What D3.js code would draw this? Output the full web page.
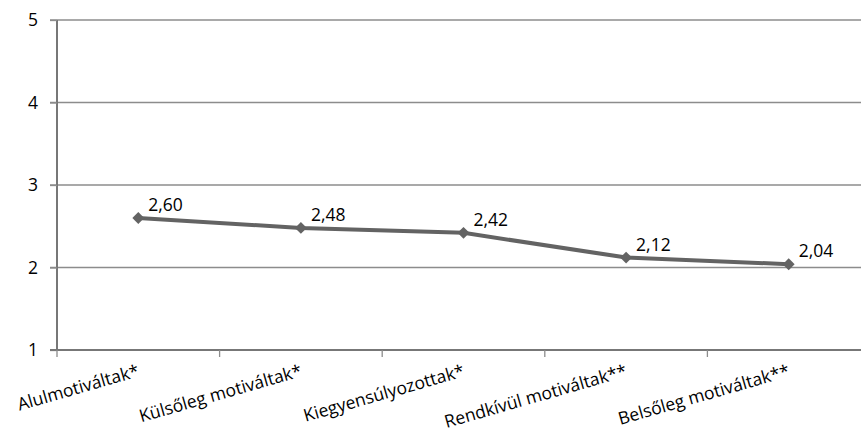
<!DOCTYPE html>
<html><head><meta charset="utf-8">
<script src="https://cdn.jsdelivr.net/npm/d3@7"></script>
<style>body{margin:0;background:#fff}svg{display:block}</style>
</head><body>
<svg id="c" width="861" height="431"></svg>
<script>
const categories = ["Alulmotiváltak*","Külsőleg motiváltak*","Kiegyensúlyozottak*","Rendkívül motiváltak**","Belsőleg motiváltak**"];
const values = [2.60, 2.48, 2.42, 2.12, 2.04];
const valueLabels = ["2,60","2,48","2,42","2,12","2,04"];
const yTicks = [1,2,3,4,5];

const svg = d3.select("#c");
const font = "'Open Sans', 'Noto Sans', sans-serif";
const x = d3.scaleBand().domain(categories).range([57, 870]);
const y = d3.scaleLinear().domain([1,5]).range([350, 20]);

// gridlines
svg.append("g").selectAll("line").data(yTicks.filter(d=>d>1)).join("line")
  .attr("x1", 50).attr("x2", 861).attr("y1", d=>y(d)).attr("y2", d=>y(d))
  .attr("stroke", "#8c8c8c").attr("stroke-width", 1.3);

// y axis
const yAxis = svg.append("g").attr("transform","translate(57,0)")
  .call(d3.axisLeft(y).tickValues(yTicks).tickSize(7).tickFormat(d3.format("d")));
yAxis.select(".domain").attr("stroke","#777").attr("stroke-width",2).attr("d", `M0,${y(5)}V${y(1)}`);
yAxis.selectAll(".tick line").attr("stroke","#8c8c8c").attr("stroke-width",1.3);
yAxis.selectAll(".tick text").attr("font-family",font).attr("font-size",17.5).attr("fill","#000").attr("x",-19);

// x axis
const ticksX = categories.map(c => x(c)).concat([x(categories[categories.length-1]) + x.bandwidth()]);
const xg = svg.append("g");
xg.append("line").attr("x1",50).attr("x2",861).attr("y1",y(1)).attr("y2",y(1)).attr("stroke","#777").attr("stroke-width",2);
xg.selectAll("line.t").data(ticksX).join("line").attr("class","t")
  .attr("x1",d=>d).attr("x2",d=>d).attr("y1",y(1)).attr("y2",y(1)+7)
  .attr("stroke","#8c8c8c").attr("stroke-width",1.3);
xg.selectAll("text").data(categories).join("text")
  .attr("transform", d => `translate(${x(d)+x.bandwidth()/2+2},${y(1)+26}) rotate(-16)`)
  .attr("text-anchor","end").attr("font-family",font).attr("font-size",17.5).attr("fill","#000")
  .text(d=>d);

// line
const cx = d => x(d) + x.bandwidth()/2;
svg.append("path").datum(categories)
  .attr("d", d3.line().x(c=>cx(c)).y((c,i)=>y(values[i])))
  .attr("fill","none").attr("stroke","#636363").attr("stroke-width",4);

svg.append("g").selectAll("path").data(categories).join("path")
  .attr("transform",(c,i)=>`translate(${cx(c)},${y(values[i])})`)
  .attr("d", d3.symbol().type(d3.symbolDiamond2).size(90))
  .attr("fill","#636363");

svg.append("g").selectAll("text").data(categories).join("text")
  .attr("x", c=>cx(c)+10).attr("y",(c,i)=>y(values[i])-7)
  .attr("font-family",font).attr("font-size",17.5).attr("fill","#000")
  .text((c,i)=>valueLabels[i]);
</script>
</body></html>
